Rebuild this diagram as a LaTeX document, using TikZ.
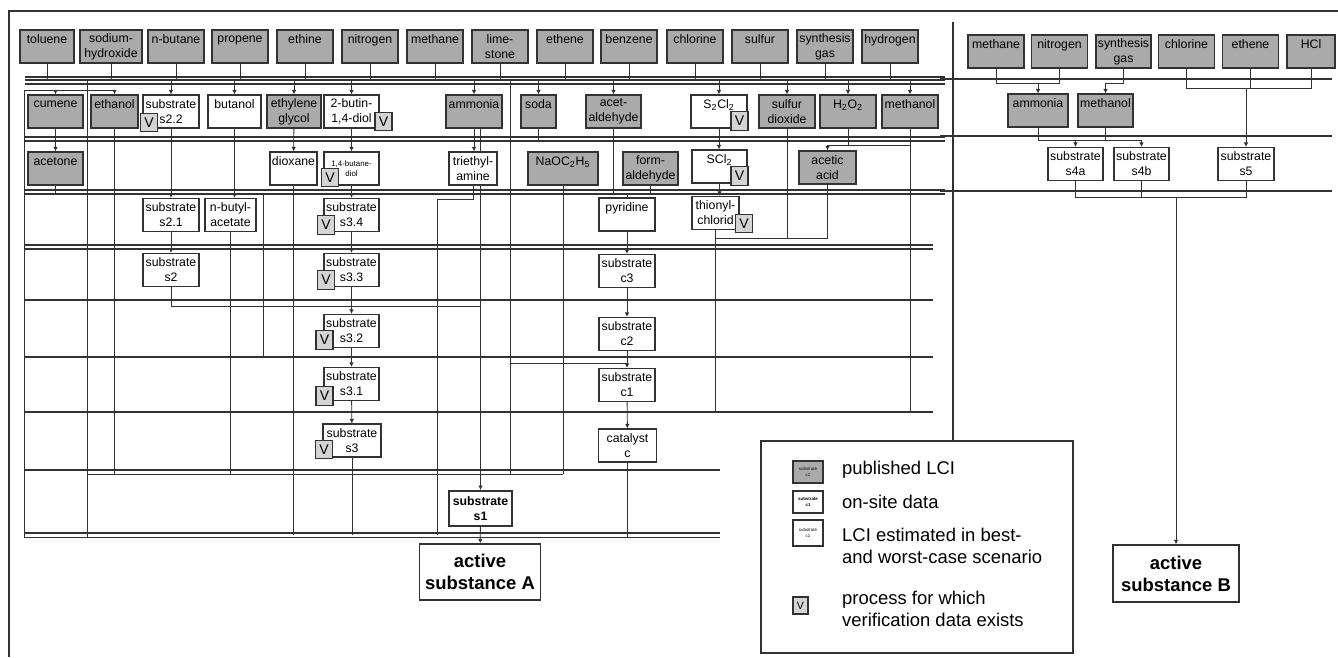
\documentclass[tikz,border=0pt]{standalone}
\usepackage{fontspec}
\setmainfont{Liberation Sans}
\definecolor{pubgray}{RGB}{170,170,170}
\definecolor{vgray}{RGB}{212,212,212}
\definecolor{linegray}{RGB}{50,50,50}
\usetikzlibrary{arrows.meta,positioning,backgrounds}

\begin{document}
\begin{tikzpicture}[x=0.02cm, y=-0.02cm,
  bw/.style={minimum width=#1*0.02cm},
  pub/.style={draw=linegray, fill=pubgray, line width=0.6pt, minimum height=0.66cm, inner sep=0.5pt, align=center, font=\fontsize{7}{8.5}\selectfont},
  est/.style={pub, fill=white},
  onsite/.style={est, line width=1.1pt, minimum height=0.7cm, font=\fontsize{7}{8.5}\selectfont\bfseries},
  vbox/.style={draw=linegray, fill=vgray, line width=0.6pt, minimum width=0.34cm, minimum height=0.37cm, inner sep=0pt, font=\fontsize{8}{8}\selectfont},
  wire/.style={draw=linegray, line width=0.5pt},
  bus/.style={draw=linegray, line width=0.75pt},
  arr/.style={wire, -{Latex[length=0.9mm,width=0.9mm]}},
  legtxt/.style={anchor=west, align=left, font=\fontsize{10.5}{12.5}\selectfont}]
  \useasboundingbox (0,0) rectangle (1338,657);

  % Outer frame
  \draw[bus] (1338,11) -- (9,11) -- (9,657);

  % Row 1: raw materials (active substance A)
  \node[pub, bw=54] (tol)  at (47,46.5)  {toluene\\~};
  \node[pub, bw=62] (naoh) at (111,46.5) {sodium-\\hydroxide};
  \node[pub, bw=56] (nbut) at (176,46.5) {n-butane\\~};
  \node[pub, bw=56] (prop) at (240,46.5) {propene\\~};
  \node[pub, bw=56] (ethi) at (305,46.5) {ethine\\~};
  \node[pub, bw=56] (nitr) at (370,46.5) {nitrogen\\~};
  \node[pub, bw=56] (meth) at (435,46.5) {methane\\~};
  \node[pub, bw=56] (lime) at (500,46.5) {lime-\\stone};
  \node[pub, bw=56] (ethe) at (565,46.5) {ethene\\~};
  \node[pub, bw=56] (benz) at (629,46.5) {benzene\\~};
  \node[pub, bw=56] (chlo) at (695,46.5) {chlorine\\~};
  \node[pub, bw=56] (sulf) at (760,46.5) {sulfur\\~};
  \node[pub, bw=56] (syng) at (825,46.5) {synthesis\\gas};
  \node[pub, bw=56] (hydr) at (890,46.5) {hydrogen\\~};

  % Row 2
  \node[pub, bw=55] (cum)   at (55.5,111.5)  {cumene\\~};
  \node[pub, bw=47] (etoh)  at (114.5,111.5) {ethanol\\~};
  \node[est, bw=56] (s22)   at (171,111.5)   {substrate\\s2.2};
  \node[est, bw=53] (buol)  at (234.5,111.5) {butanol\\~};
  \node[pub, bw=54] (eglc)  at (294,111.5)   {ethylene\\glycol};
  \node[est, bw=55] (butin) at (351.5,111.5) {2-butin-\\1,4-diol};
  \node[pub, bw=56] (amm)   at (474,111.5)   {ammonia\\~};
  \node[pub, bw=35] (soda)  at (538.5,111.5) {soda\\~};
  \node[pub, bw=55] (acal)  at (613.5,111.5) {acet-\\aldehyde};
  \node[est, bw=56] (sscl)  at (719,111.5)   {S\textsubscript{2}Cl\textsubscript{2}\\~};
  \node[pub, bw=56] (so2)   at (787,111.5)   {sulfur\\dioxide};
  \node[pub, bw=56] (hoo)   at (848,111.5)   {H\textsubscript{2}O\textsubscript{2}\\~};
  \node[pub, bw=56] (meoh)  at (910,111.5)   {methanol\\~};

  % Row 3
  \node[pub, bw=55] (acet)  at (55.5,168.5)  {acetone\\~};
  \node[est, bw=47] (diox)  at (293.5,168.5) {dioxane\\~};
  \node[est, bw=55, font=\fontsize{4.5}{5.5}\selectfont] (bdiol) at (351.5,168.5) {1,4-butane-\\diol};
  \node[est, bw=48] (teta)  at (473,168.5)   {triethyl-\\amine};
  \node[pub, bw=70] (naoet) at (563,168.5)   {NaOC\textsubscript{2}H\textsubscript{5}\\~};
  \node[pub, bw=55] (form)  at (650.5,168.5) {form-\\aldehyde};
  \node[est, bw=55] (scl)   at (719.5,166.5) {SCl\textsubscript{2}\\~};
  \node[pub, bw=57] (acac)  at (827.5,167.5) {acetic\\acid};

  % Row 4
  \node[est, bw=56] (s21)  at (171,215)   {substrate\\s2.1};
  \node[est, bw=51] (nbac) at (230.5,215) {n-butyl-\\acetate};
  \node[est, bw=55] (s34)  at (351.5,215) {substrate\\s3.4};
  \node[est, bw=56] (pyr)  at (627,214.5) {pyridine\\~};
  \node[est, bw=47] (thc)  at (715.5,213) {thionyl-\\chlorid};

  % Rows 5 to 8
  \node[est, bw=56] (s2)   at (171,270)   {substrate\\s2};
  \node[est, bw=55] (s33)  at (351.5,270) {substrate\\s3.3};
  \node[est, bw=56] (c3)   at (627,271)   {substrate\\c3};
  \node[est, bw=55] (s32)  at (351.5,331) {substrate\\s3.2};
  \node[est, bw=56] (c2)   at (627,334)   {substrate\\c2};
  \node[est, bw=55] (s31)  at (351.5,384) {substrate\\s3.1};
  \node[est, bw=56] (c1)   at (627,385)   {substrate\\c1};
  \node[est, bw=58] (s3)   at (352,440.5) {substrate\\s3};
  \node[est, bw=58] (catc) at (627.5,445.5) {catalyst\\c};

  % Final steps
  \node[onsite, bw=63] (s1) at (480.5,508.5) {substrate\\s1};
  \node[draw=linegray, line width=0.8pt, fill=white, bw=116, minimum height=1.12cm, align=center, font=\fontsize{10.5}{12.5}\selectfont\bfseries] (actA) at (480,572) {active\\substance A};

  % Verification marks
  \node[vbox] (v22)  at (149,122.5)   {V};
  \node[vbox] (vbut) at (383.5,121.5) {V};
  \node[vbox] (vssc) at (739.5,121)   {V};
  \node[vbox] (vbd)  at (330,177.5)   {V};
  \node[vbox] (vscl) at (739.5,176)   {V};
  \node[vbox] (v34)  at (326,225)     {V};
  \node[vbox] (vthc) at (744,223.5)   {V};
  \node[vbox] (v33)  at (326,280)     {V};
  \node[vbox] (v32)  at (324.5,340)   {V};
  \node[vbox] (v31)  at (324.5,396)   {V};
  \node[vbox] (v3)   at (324,449.5)   {V};

  % Active substance B
  \node[pub, bw=56] (mth2) at (996,51.5)    {methane\\~};
  \node[pub, bw=56] (nit2) at (1059.5,51.5) {nitrogen\\~};
  \node[pub, bw=55] (syn2) at (1123.5,51.5) {synthesis\\gas};
  \node[pub, bw=56] (chl2) at (1186.5,51.5) {chlorine\\~};
  \node[pub, bw=56] (eth2) at (1250.5,51.5) {ethene\\~};
  \node[pub, bw=48] (hcl2) at (1311,51.5)   {HCl\\~};
  \node[pub, bw=60] (amm2) at (1038,110.5)  {ammonia\\~};
  \node[pub, bw=55] (meo2) at (1105.5,110.5) {methanol\\~};
  \node[est, bw=55] (s4a)  at (1075.5,164)  {substrate\\s4a};
  \node[est, bw=55] (s4b)  at (1141.5,164)  {substrate\\s4b};
  \node[est, bw=56] (s5)   at (1246,164)    {substrate\\s5};
  \node[draw=linegray, line width=0.8pt, fill=white, bw=126, minimum height=1.14cm, align=center, font=\fontsize{10.5}{12.5}\selectfont\bfseries] (actB) at (1176,573.5) {active\\substance B};

  % Legend
  \node[draw=linegray, line width=0.8pt, fill=white, minimum width=312*0.02cm, minimum height=212*0.02cm] (legbox) at (917,547) {};
  \node[pub, minimum width=0.6cm, minimum height=0.44cm, font=\fontsize{2.5}{3}\selectfont] (lgpub) at (808,472) {substrate\\c1};
  \node[est, line width=1pt, minimum width=0.6cm, minimum height=0.44cm, font=\fontsize{2.5}{3}\selectfont\bfseries] (lgon) at (808,502) {substrate\\c1};
  \node[est, minimum width=0.6cm, minimum height=0.52cm, font=\fontsize{2.5}{3}\selectfont] (lgest) at (808,533) {substrate\\c1};
  \node[vbox, minimum width=0.3cm, minimum height=0.34cm, font=\fontsize{6}{6}\selectfont] (lgv) at (800.5,605.5) {V};
  \node[legtxt] (lgt1) at (836,470) {published LCI};
  \node[legtxt] (lgt2) at (836,502) {on-site data};
  \node[legtxt] (lgt3) at (836,546) {LCI estimated in best-\\and worst-case scenario};
  \node[legtxt] (lgt4) at (836,609) {process for which\\verification data exists};

  % Bus levels and free ends
  \coordinate (yA)  at (0,80);
  \coordinate (yA2) at (0,90);
  \coordinate (yB)  at (0,141);
  \coordinate (yB2) at (0,145);
  \coordinate (yC)  at (0,194);
  \coordinate (yC2) at (0,199);
  \coordinate (yD)  at (0,238);
  \coordinate (yE)  at (0,306);
  \coordinate (yF)  at (0,357);
  \coordinate (yF2) at (0,363);
  \coordinate (yG)  at (0,412);
  \coordinate (yH)  at (0,474);
  \coordinate (yI)  at (0,535);
  \coordinate (yI2) at (0,537);
  \coordinate (yR1) at (0,83);
  \coordinate (yR2) at (0,88);
  \coordinate (yR3) at (0,140);
  \coordinate (yR4) at (0,197);
  \coordinate (xfr)  at (24,0);
  \coordinate (x87)  at (87,0);
  \coordinate (xlnk) at (263,0);
  \coordinate (xtea) at (437,0);
  \coordinate (xlim) at (510,0);
  \coordinate (divtop) at (953,22);

  \begin{scope}[on background layer]
    % bus lines
    \foreach \y in {77,80,84,137,141,190,194} \draw[bus] (25,\y) -- (945,\y);
    \foreach \y in {79,136,191} \draw[bus] (940,\y) -- (1332,\y);
    \foreach \y in {245,249,300,357,412} \draw[bus] (25,\y) -- (933,\y);
    \foreach \y in {470,533} \draw[bus] (25,\y) -- (720,\y);
    \draw[bus] (divtop) -- (divtop |- legbox.north);

    % inner frame
    \draw[wire] (etoh.north |- yA2) -- (xfr |- yA2) -- (xfr |- yI2) -- (720,537);
    \draw[wire] (x87 |- yA) -- (x87 |- yI2);
    \draw[wire] (x87 |- yH) -- (naoet.south |- yH);

    % row 1 into the bus
    \foreach \n in {tol,naoh,nbut,prop,ethi,nitr,meth,lime,ethe,benz,chlo,sulf,syng,hydr}
      \draw[wire] (\n.south) -- (\n.south |- yA);

    % bus into row 2
    \foreach \n in {s22,buol,eglc,butin,amm,soda,acal,sscl,so2,hoo,meoh}
      \draw[arr] (\n.north |- yA) -- (\n.north);
    \draw[arr] (cum.north |- yA2) -- (cum.north);
    \draw[arr] (etoh.north |- yA2) -- (etoh.north);

    % row 2 to row 3
    \draw[arr] (cum) -- (acet);
    \draw[arr] (eglc) -- (diox);
    \draw[arr] (butin) -- (bdiol);
    \draw[arr] (amm.south) -- (amm.south |- teta.north);
    \draw[arr] (sscl.south) -- (sscl.south |- scl.north);
    \draw[arr] (s22) -- (s21);
    \draw[arr] (buol.south) -- (buol.south |- nbac.north);
    \draw[arr] (hoo.south) |- (acac.north |- yB2) -- (acac.north);
    \draw[wire] (meoh.south) -- (meoh.south |- yG);
    \draw[wire] (meoh.south |- yB2) -- (acac.north |- yB2);
    \draw[wire] (etoh.south) -- (etoh.south |- yH);
    \draw[wire] (soda.south) -- (soda.south |- yB);
    \draw[wire] (acal.south) -- (acal.south |- yC);
    \draw[arr] (s1.north |- amm.south) -- (s1.north);
    \draw[wire] (xlim |- yA) -- (xlim |- yH);
    \draw[wire] (xlim |- yF2) -- (c1.north |- yF2);

    % row 3 onwards
    \draw[wire] (acet.south) |- (s21.north |- yC);
    \draw[wire] (diox.south) -- (diox.south |- yI);
    \draw[arr] (bdiol) -- (s34);
    \draw[wire] (teta.south) |- (xtea |- yC2) -- (xtea |- yI);
    \draw[wire] (naoet.south) -- (naoet.south |- yH);
    \draw[wire] (form.south) |- (pyr.north |- yC) -- (pyr.north);
    \draw[arr] (scl.south) -- (scl.south |- thc.north);
    \draw[wire] (acac.south) |- (thc.south |- yD);
    \draw[wire] (so2.south) -- (so2.south |- yD);
    \draw[wire] (xlnk |- yC) -- (xlnk |- yF);

    % row 4
    \draw[arr] (s21) -- (s2);
    \draw[wire] (nbac.south) -- (nbac.south |- yH);
    \draw[arr] (s34) -- (s33);
    \draw[arr] (pyr) -- (c3);
    \draw[wire] (thc.south) -- (thc.south |- yG);

    % rows 5 to 8
    \draw[wire] (s2.south) |- (s1.north |- yE);
    \draw[arr] (s33) -- (s32);
    \draw[arr] (c3) -- (c2);
    \draw[arr] (s32) -- (s31);
    \draw[arr] (c2) -- (c1);
    \draw[arr] (s31) -- (s3);
    \draw[arr] (c1) -- (catc);
    \draw[wire] (s3.south) -- (s3.south |- yI);
    \draw[wire] (catc.south) |- (actA.north |- yI2);
    \draw[arr] (s1) -- (actA);

    % active substance B
    \draw[wire] (mth2.south) |- (nit2.south |- yR1) -- (nit2.south);
    \draw[arr] (amm2.north |- yR1) -- (amm2.north);
    \draw[arr] (syn2.south) |- (meo2.north |- yR1) -- (meo2.north);
    \draw[wire] (chl2.south) |- (hcl2.south |- yR2) -- (hcl2.south);
    \draw[wire] (eth2.south) -- (eth2.south |- yR2);
    \draw[arr] (s5.north |- yR2) -- (s5.north);
    \draw[wire] (amm2.south) |- (s4b.north |- yR3);
    \draw[wire] (meo2.south) -- (meo2.south |- yR3);
    \draw[arr] (s4a.north |- yR3) -- (s4a.north);
    \draw[arr] (s4b.north |- yR3) -- (s4b.north);
    \draw[wire] (s4a.south) |- (s5.south |- yR4) -- (s5.south);
    \draw[wire] (s4b.south) -- (s4b.south |- yR4);
    \draw[arr] (actB.north |- yR4) -- (actB.north);
  \end{scope}
\end{tikzpicture}
\end{document}
